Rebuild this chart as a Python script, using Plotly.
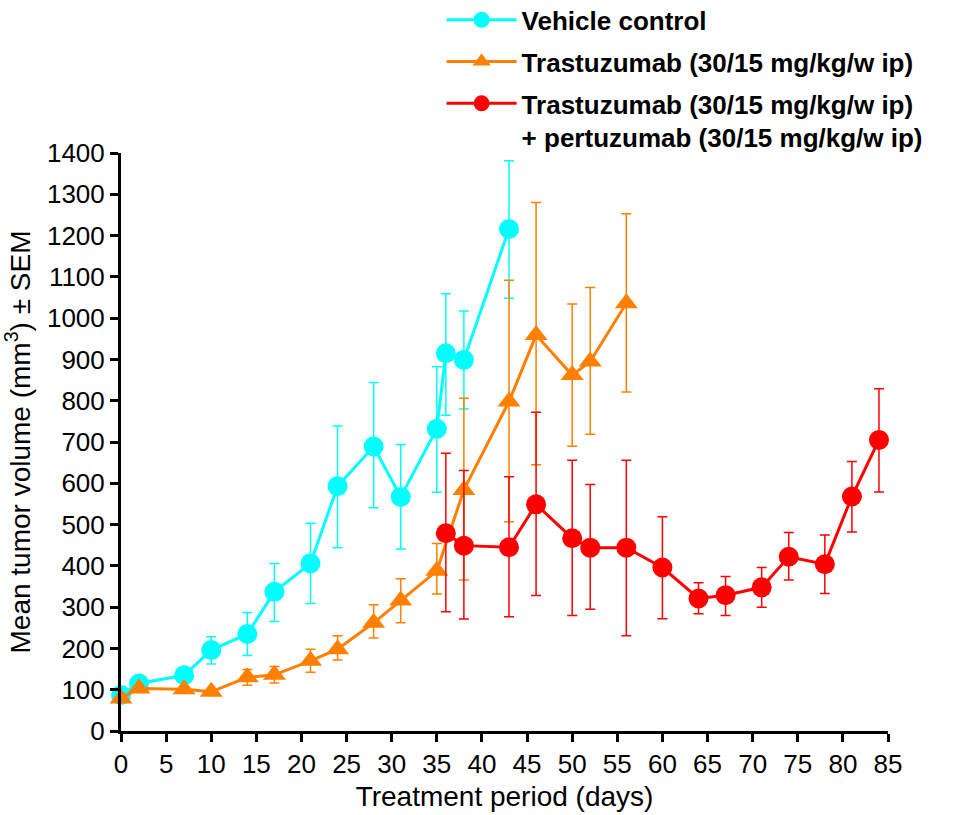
import plotly.graph_objects as go

# Vehicle control
veh_days = [0, 2, 7, 10, 14, 17, 21, 24, 28, 31, 35, 36, 38, 43]
veh_mean = [87, 115, 135, 196, 235, 337, 406, 593, 689, 567, 732, 915, 899, 1216]
veh_up   = [0, 0, 0, 32, 52, 69, 97, 146, 155, 127, 150, 144, 118, 165]
veh_dn   = [0, 0, 0, 34, 52, 72, 97, 149, 148, 126, 154, 150, 119, 168]

# Trastuzumab
tra_days = [0, 2, 7, 10, 14, 17, 21, 24, 28, 31, 35, 38, 43, 46, 50, 52, 56]
tra_mean = [79, 103, 101, 95, 130, 136, 170, 198, 262, 316, 388, 584, 798, 959, 862, 895, 1036]
tra_up   = [0, 0, 0, 0, 19, 20, 28, 33, 44, 53, 66, 222, 294, 321, 172, 179, 217]
tra_dn   = [0, 0, 0, 0, 19, 20, 28, 26, 37, 54, 56, 218, 291, 314, 172, 176, 215]

# Trastuzumab + pertuzumab
com_days = [36, 38, 43, 46, 50, 52, 56, 60, 64, 67, 71, 74, 78, 81, 84]
com_mean = [479, 449, 445, 549, 467, 444, 444, 396, 321, 329, 348, 422, 404, 568, 705]
com_up   = [194, 182, 171, 223, 189, 153, 212, 123, 38, 45, 48, 59, 71, 85, 124]
com_dn   = [190, 178, 168, 221, 187, 149, 213, 124, 37, 49, 48, 56, 71, 86, 126]

x_ticks = list(range(0, 90, 5))
y_ticks = list(range(0, 1500, 100))

names = ["Vehicle control",
         "Trastuzumab (30/15 mg/kg/w ip)",
         "Trastuzumab (30/15 mg/kg/w ip)<br>+ pertuzumab (30/15 mg/kg/w ip)"]

fig = go.Figure()

def add(days, mean, up, dn, color, symbol, name, size, grp):
    fig.add_trace(go.Scatter(
        x=days, y=mean, mode="lines+markers", name=name, legendgroup=grp,
        line=dict(color=color, width=3),
        marker=dict(color=color, symbol=symbol, size=size),
        error_y=dict(type="data", symmetric=False, array=up, arrayminus=dn,
                     color=color, thickness=1.5, width=5),
        cliponaxis=False,
    ))

add(veh_days, veh_mean, veh_up, veh_dn, "#00FFFF", "circle", names[0], 20, "a")
add(tra_days, tra_mean, tra_up, tra_dn, "#FF8000", "triangle-up", names[1], 20, "b")
add(com_days, com_mean, com_up, com_dn, "#FF0000", "circle", names[2], 20, "c")

FF = "Liberation Sans, Arial, sans-serif"

fig.update_layout(
    width=955, height=815,
    margin=dict(l=121, r=67, t=153, b=84, autoexpand=False),
    plot_bgcolor="white", paper_bgcolor="white",
    font=dict(family=FF, size=23, color="black"),
    showlegend=True,
    legend=dict(
        x=0.418, y=1.271, xanchor="left", yanchor="top",
        font=dict(family=FF, size=26, color="black", weight="bold"),
        bgcolor="rgba(0,0,0,0)", traceorder="grouped", tracegroupgap=5,
        valign="top", itemwidth=70,
    ),
    xaxis=dict(
        range=[0, 85], tickmode="array", tickvals=x_ticks,
        ticks="outside", ticklen=8, tickwidth=3, tickcolor="black",
        showline=True, linewidth=3, linecolor="black", showgrid=False, zeroline=False,
        title=dict(text="Treatment period (days)", standoff=9),
        tickfont=dict(family=FF, size=26, color="black"),
    ),
    yaxis=dict(
        range=[0, 1400], tickmode="array", tickvals=y_ticks,
        ticks="outside", ticklen=8, tickwidth=3, tickcolor="black",
        showline=True, linewidth=3, linecolor="black", showgrid=False, zeroline=False,
        title=dict(text="Mean tumor volume (mm<sup>3</sup>) ± SEM", standoff=9),
        tickfont=dict(family=FF, size=26, color="black"),
    ),
)

fig.write_html("out.html")
